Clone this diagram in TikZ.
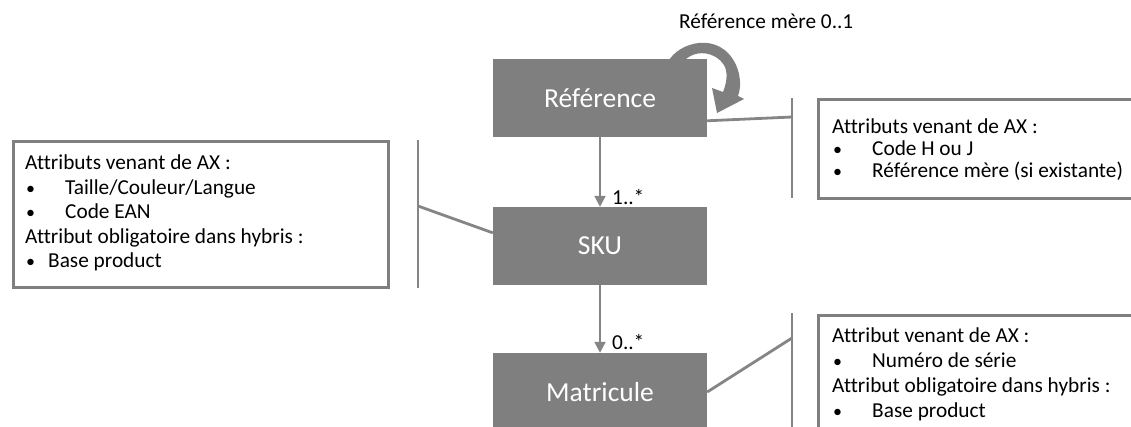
\documentclass[tikz,border=0pt]{standalone}
\usepackage{fontspec}
\setmainfont{Carlito}[Ligatures=NoCommon]
\usetikzlibrary{arrows.meta}
\definecolor{boxgray}{HTML}{7F7F7F}
\definecolor{linegray}{HTML}{858585}
\begin{document}
\begin{tikzpicture}[x=1pt,y=-1pt,
  entity/.style={draw=none, fill=boxgray, text=white, minimum width=214pt,
    minimum height=78pt, inner sep=0pt, font=\fontsize{27.5}{32}\selectfont},
  attrbox/.style={draw=boxgray, line width=3pt, fill=white, anchor=north west, inner sep=0pt},
  bracket/.style={draw=linegray, line width=2.8pt},
  arr/.style={draw=linegray, line width=2pt, -{Triangle[width=11pt,length=11pt]}},
  txt/.style={anchor=base west, inner sep=0pt, font=\fontsize{21.3}{25}\selectfont},
  bul/.style={anchor=base west, inner sep=0pt, font=\fontsize{18}{25}\selectfont},
  mult/.style={anchor=base west, inner sep=0pt, font=\fontsize{21.3}{25}\selectfont},
]
\useasboundingbox (0,0) rectangle (1131,426);
\clip (0,0) rectangle (1131,426);

% self association on the Référence entity (block arrow, partly hidden by the box)
\fill[boxgray] (668,62) .. controls (678,42) and (720,30) .. (736,65)
  .. controls (741,76) and (741,88) .. (738,96) -- (744,99) -- (717,113)
  -- (712,88) -- (723,92) .. controls (727,82) and (728,72) .. (724,65)
  .. controls (716,52) and (695,48) .. (683,62) -- cycle;
\node[mult] (selflbl) at (679,28) {Référence mère 0..1};

% entities
\node[entity] (ref) at (600,98) {Référence};
\node[entity] (sku) at (600,246) {SKU};
\node[entity] (mat) at (600,392) {Matricule};

% associations
\draw[arr] (ref.south) -- (sku.north);
\node[mult] (m1) at (612,204) {1..*};
\draw[arr] (sku.south) -- (mat.north);
\node[mult] (m2) at (612,349) {0..*};

% attribute boxes
\node[attrbox, minimum width=375pt, minimum height=146pt] (lbox) at (12,140) {};
\node[attrbox, minimum width=340pt, minimum height=99pt] (rtbox) at (817,98) {};
\node[attrbox, minimum width=340pt, minimum height=130pt] (rbbox) at (817,314) {};

% brackets linking boxes to entities
\coordinate (lbT) at (418,140);
\coordinate (lbB) at (418,288);
\coordinate (lbM) at (418,206);
\draw[bracket] (lbT) -- (lbB);
\draw[bracket] (lbM) -- (sku.173);

\coordinate (rtT) at (792,98);
\coordinate (rtB) at (792,198);
\coordinate (rtM) at (792,117);
\draw[bracket] (rtT) -- (rtB);
\draw[bracket] (ref.348) -- (rtM);

\coordinate (rbT) at (792,313);
\coordinate (rbB) at (792,440);
\coordinate (rbM) at (792,338);
\draw[bracket] (rbT) -- (rbB);
\draw[bracket] (mat.east) -- (rbM);

% texts of the left box
\node[txt] (l1) at (25,169) {Attributs venant de AX :};
\node[bul] (l2b) at (26,194) {•};
\node[txt] (l2) at (65,194) {Taille/Couleur/Langue};
\node[bul] (l3b) at (26,218) {•};
\node[txt] (l3) at (65,218) {Code EAN};
\node[txt] (l4) at (25,243) {Attribut obligatoire dans hybris :};
\node[bul] (l5b) at (26,267) {•};
\node[txt] (l5) at (48,267) {Base product};

% texts of the upper right box
\node[txt] (r1) at (832,133) {Attributs venant de AX :};
\node[bul] (r2b) at (833,155) {•};
\node[txt] (r2) at (872,155) {Code H ou J};
\node[bul] (r3b) at (833,177) {•};
\node[txt] (r3) at (872,177) {Référence mère (si existante)};

% texts of the lower right box
\node[txt] (s1) at (832,342) {Attribut venant de AX :};
\node[bul] (s2b) at (833,367) {•};
\node[txt] (s2) at (872,367) {Numéro de série};
\node[txt] (s3) at (832,392) {Attribut obligatoire dans hybris :};
\node[bul] (s4b) at (833,417) {•};
\node[txt] (s4) at (872,417) {Base product};
\end{tikzpicture}
\end{document}
